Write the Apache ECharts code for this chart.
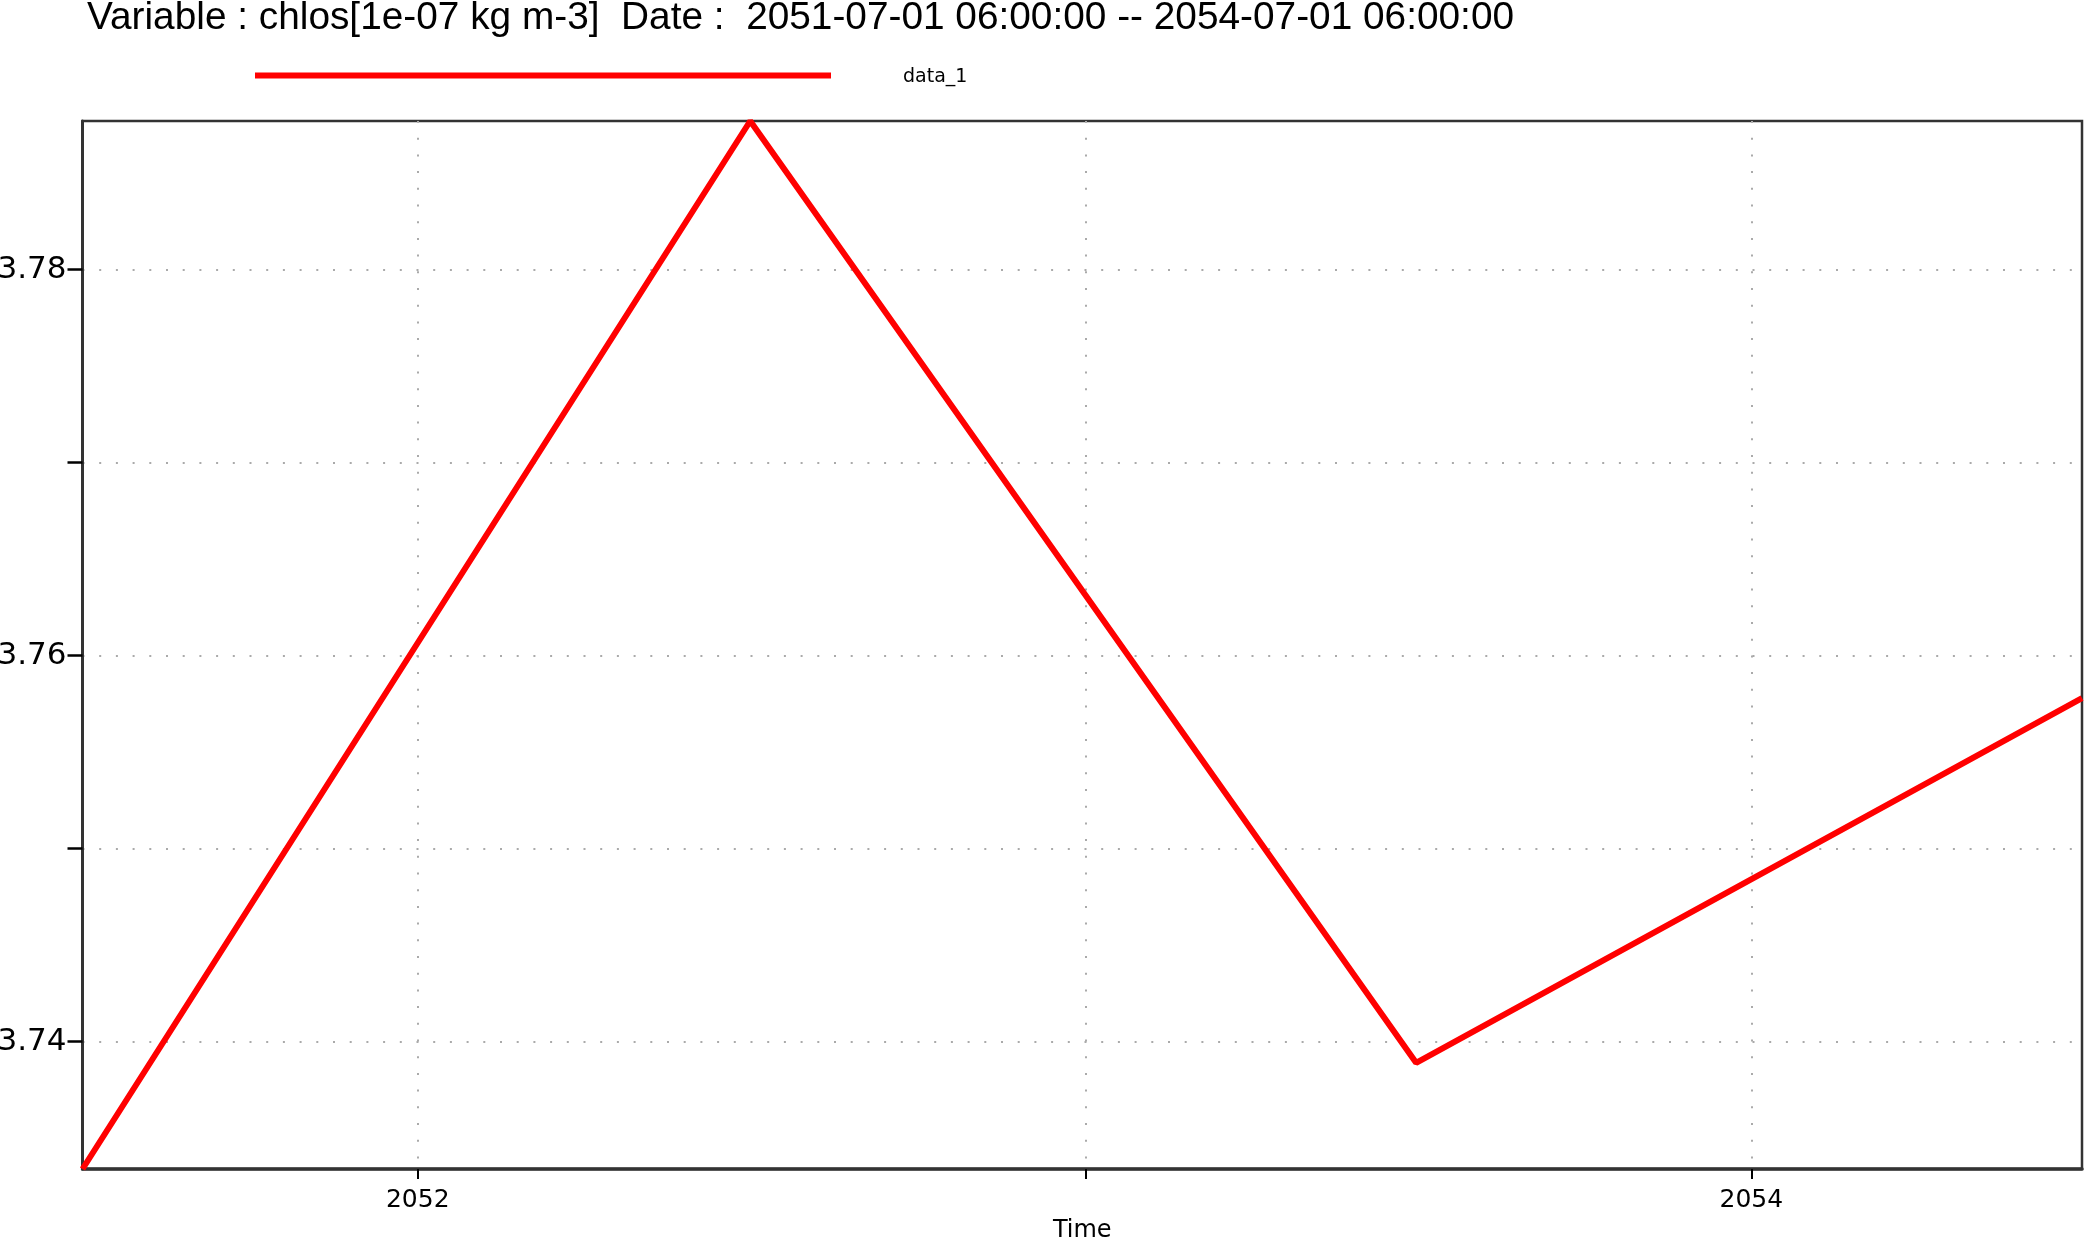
<!DOCTYPE html>
<html>
<head>
<meta charset="utf-8">
<script src="https://cdn.jsdelivr.net/npm/echarts@6/dist/echarts.min.js"></script>
<style>html,body{margin:0;padding:0;background:#fff}#c{width:2085px;height:1238px}</style>
</head>
<body>
<div id="c"></div>
<script>
const titleText = 'Variable : chlos[1e-07 kg m-3]  Date :  2051-07-01 06:00:00 -- 2054-07-01 06:00:00';
const seriesName = 'data_1';
const dates = ['2051-07-01T06:00:00Z', '2052-07-01T06:00:00Z', '2053-07-01T06:00:00Z', '2054-07-01T06:00:00Z'];
const values = [3.7334, 3.7877, 3.7389, 3.7578];
const xTickDates = ['2052-01-01T00:00:00Z', '2053-01-01T00:00:00Z', '2054-01-01T00:00:00Z'];
const xLabelDates = ['2052-01-01T00:00:00Z', '2054-01-01T00:00:00Z'];
const yTicks = [3.74, 3.75, 3.76, 3.77, 3.78];
const yLabels = [3.74, 3.76, 3.78];
const xRange = ['2051-07-01T06:00:00Z', '2054-07-01T06:00:00Z'];
const yRange = [3.7334, 3.7877];

const ts = s => Date.parse(s);
const chart = echarts.init(document.getElementById('c'), null, {renderer: 'canvas'});
const dotted = {color: '#aaaaaa', width: 2, type: [2, 14.7]};
chart.setOption({
  animation: false,
  backgroundColor: '#fff',
  title: {
    text: titleText, left: 87, top: -1, padding: 0,
    textStyle: {fontFamily: 'Liberation Sans', fontSize: 38.8, fontWeight: 'normal', color: '#000'}
  },
  legend: {
    left: 255, top: 67.5, padding: 0,
    itemWidth: 576, itemHeight: 6, icon: 'rect',
    data: [{name: seriesName, itemStyle: {color: '#ff0000'}}],
    formatter: '{a|{name}}',
    textStyle: {fontFamily: 'DejaVu Sans', fontSize: 19, color: '#000', rich: {a: {fontFamily: 'DejaVu Sans', fontSize: 19, padding: [3, 0, 0, 67]}}}
  },
  grid: {left: 82.5, right: 3, top: 121, bottom: 69, show: true, borderColor: '#333', borderWidth: 2.5, containLabel: false, outerBoundsMode: 'none'},
  xAxis: {
    type: 'value', min: ts(xRange[0]), max: ts(xRange[1]),
    name: 'Time', nameLocation: 'middle', nameGap: 50,
    nameTextStyle: {fontFamily: 'DejaVu Sans', fontSize: 24, color: '#000'},
    axisLine: {show: true, lineStyle: {color: '#333', width: 3.5}},
    axisTick: {show: true, length: 10, lineStyle: {color: '#000', width: 2}, customValues: xTickDates.map(ts)},
    axisLabel: {
      customValues: xLabelDates.map(ts), margin: 19,
      fontFamily: 'DejaVu Sans', fontSize: 25, color: '#000',
      formatter: v => String(new Date(v).getUTCFullYear())
    },
    splitLine: {show: true, lineStyle: dotted}
  },
  yAxis: {
    type: 'value', min: yRange[0], max: yRange[1],
    axisLine: {show: true, lineStyle: {color: '#333', width: 3}},
    axisTick: {show: true, length: 15, lineStyle: {color: '#000', width: 2.5}, customValues: yTicks},
    axisLabel: {
      customValues: yLabels, margin: 16,
      fontFamily: 'DejaVu Sans', fontSize: 31, color: '#000',
      formatter: v => v.toFixed(2)
    },
    splitLine: {show: true, lineStyle: dotted}
  },
  series: [{
    name: seriesName, type: 'line',
    data: dates.map((d, i) => [ts(d), values[i]]),
    showSymbol: false, symbol: 'none', clip: false,
    lineStyle: {color: '#ff0000', width: 6},
    itemStyle: {color: '#ff0000'}
  }]
});
</script>
</body>
</html>
